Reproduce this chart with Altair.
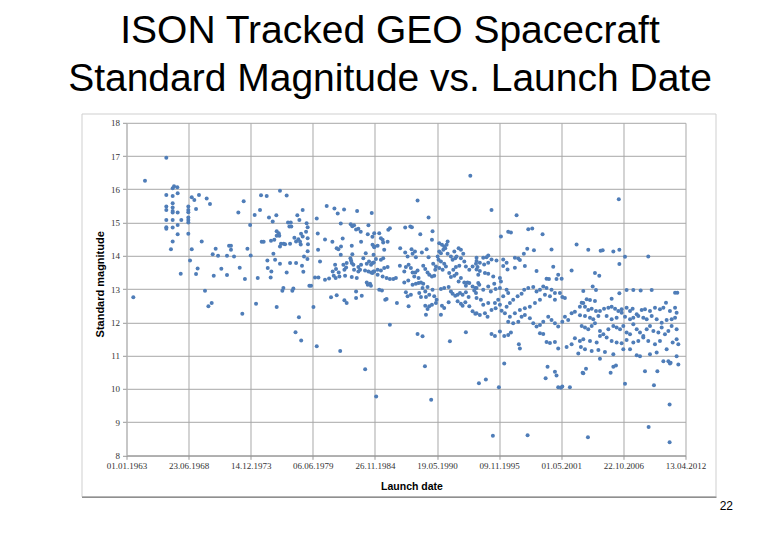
import altair as alt
import pandas as pd

title_lines = ["ISON Tracked GEO Spacecraft", "Standard Magnitude vs. Launch Date"]
x_title = "Launch date"
y_title = "Standard magnitude"
page_number = "22"

# Excel-style date axis: ticks every 2000 days from 01.01.1963
x_tick_days = [0, 2000, 4000, 6000, 8000, 10000, 12000, 14000, 16000, 18000]
x_tick_labels = ["01.01.1963", "23.06.1968", "14.12.1973", "06.06.1979", "26.11.1984",
                 "19.05.1990", "09.11.1995", "01.05.2001", "22.10.2006", "13.04.2012"]
y_ticks = [8, 9, 10, 11, 12, 13, 14, 15, 16, 17, 18]

# (launch date as decimal year, standard magnitude)
seg_1963_1973 = [
    (1963.60, 12.75), (1964.63, 16.26), (1966.51, 16.95), (1966.51, 15.83), (1966.51, 15.48),
    (1966.51, 15.38), (1966.51, 15.08), (1966.51, 14.86), (1966.51, 14.81),
    (1967.07, 16.03), (1967.19, 16.09), (1967.48, 16.06), (1967.07, 15.80), (1967.07, 15.58),
    (1967.07, 15.45), (1967.07, 15.35), (1967.07, 15.30), (1967.07, 15.08), (1967.07, 14.85),
    (1967.07, 14.43), (1966.92, 14.20), (1967.51, 15.88), (1967.51, 15.30), (1967.51, 14.93),
    (1967.51, 14.65), (1967.83, 15.08), (1967.78, 13.46),
    (1968.45, 15.48), (1968.45, 15.38), (1968.45, 15.31), (1968.45, 15.15), (1968.45, 15.08),
    (1968.45, 15.00), (1968.45, 14.66), (1968.75, 15.76), (1968.98, 15.68), (1969.13, 15.41),
    (1969.39, 15.83), (1968.75, 14.20), (1968.60, 13.86), (1969.63, 14.43), (1969.27, 13.62),
    (1969.13, 13.45), (1969.92, 12.95), (1970.07, 15.72), (1970.36, 15.56), (1970.51, 12.58),
    (1970.22, 12.48), (1970.60, 14.05), (1970.86, 14.21), (1971.07, 14.00), (1970.69, 13.40),
    (1971.36, 13.61), (1971.86, 14.00), (1972.04, 14.30), (1972.21, 14.30), (1972.21, 14.18),
    (1972.48, 13.98), (1971.86, 13.42), (1972.98, 13.64), (1973.44, 13.30), (1972.86, 15.30),
    (1973.33, 15.64), (1973.21, 12.26), (1973.66, 14.21), (1973.90, 14.93),
]
seg_1974_1979 = [
    (1973.95, 14.01), (1974.30, 15.23), (1974.77, 15.38), (1974.86, 15.82), (1975.36, 15.80),
    (1976.53, 15.96), (1977.12, 15.81), (1974.92, 14.42), (1975.09, 14.42), (1975.56, 15.15),
    (1975.89, 15.03), (1975.74, 14.45), (1976.03, 14.48), (1976.21, 15.22), (1976.24, 14.74),
    (1976.42, 14.68), (1976.47, 14.60), (1976.53, 14.28), (1976.62, 14.36), (1976.86, 14.36),
    (1975.95, 14.06), (1975.42, 13.86), (1975.45, 13.63), (1975.77, 13.53), (1975.71, 13.35),
    (1976.53, 13.76), (1977.12, 13.50), (1976.74, 12.95), (1976.83, 13.03), (1977.62, 12.95),
    (1977.71, 13.02), (1977.42, 13.78), (1977.24, 15.00), (1977.48, 15.00), (1977.36, 14.88),
    (1977.53, 14.88), (1977.42, 14.36), (1977.80, 14.54), (1977.95, 14.43), (1978.15, 14.50),
    (1978.36, 14.34), (1978.06, 15.22), (1978.24, 15.08), (1978.53, 15.38), (1978.39, 14.66),
    (1978.53, 14.58), (1978.65, 13.98), (1978.47, 13.70), (1978.59, 13.52), (1977.95, 13.78),
    (1978.88, 14.98), (1978.97, 14.86), (1978.97, 14.53), (1978.97, 14.14), (1979.12, 13.10),
    (1974.42, 12.56), (1976.24, 12.46), (1978.20, 12.15), (1977.90, 11.70), (1978.40, 11.45),
    (1976.10, 13.88), (1978.95, 13.90), (1974.57, 13.33), (1978.83, 14.72), (1978.30, 14.42),
    (1979.00, 14.35), (1976.98, 14.35), (1976.24, 14.60),
]
seg_1979_1984 = [
    (1979.77, 15.12), (1979.48, 12.46), (1979.77, 11.28), (1979.86, 14.67), (1979.89, 14.18),
    (1980.06, 13.83), (1979.62, 13.35), (1979.92, 13.35), (1979.27, 13.10), (1980.50, 14.49),
    (1980.65, 15.50), (1980.50, 13.28), (1980.86, 13.32), (1981.15, 14.42), (1981.33, 15.42),
    (1981.62, 15.27), (1981.89, 14.97), (1981.39, 13.73), (1981.53, 14.23), (1981.68, 14.20),
    (1981.91, 14.28), (1982.06, 14.52), (1981.03, 12.75), (1981.53, 12.81), (1981.18, 13.53),
    (1981.47, 13.60), (1981.71, 13.50), (1981.27, 13.40), (1981.44, 13.33), (1981.77, 13.38),
    (1982.18, 15.39), (1982.21, 12.66), (1982.41, 12.58), (1982.12, 13.73), (1982.36, 13.65),
    (1982.41, 13.78), (1982.21, 13.58), (1982.27, 13.40), (1981.89, 14.03), (1982.77, 14.95),
    (1982.91, 14.89), (1983.06, 14.92), (1983.24, 14.79), (1983.44, 14.81), (1983.65, 14.72),
    (1982.86, 14.30), (1982.91, 14.05), (1982.74, 13.93), (1982.80, 13.86), (1982.86, 13.78),
    (1983.00, 13.73), (1983.06, 13.58), (1983.44, 13.66), (1983.68, 13.73), (1983.59, 13.58),
    (1983.44, 13.53), (1982.86, 13.36), (1983.30, 13.33), (1983.24, 12.93), (1983.24, 12.73),
    (1983.74, 12.80), (1983.68, 14.42), (1983.88, 13.93), (1984.09, 14.08), (1983.33, 15.35),
    (1984.33, 14.92), (1984.62, 15.29), (1984.27, 14.65), (1984.68, 14.57), (1984.85, 14.28),
    (1984.18, 13.76), (1984.38, 13.83), (1984.56, 13.73), (1984.80, 13.80), (1984.03, 13.56),
    (1984.33, 13.53), (1984.56, 13.50), (1984.77, 13.53), (1984.18, 13.20), (1984.27, 13.13),
    (1984.47, 13.16), (1981.84, 11.14), (1984.04, 10.59), (1985.01, 9.77),
]
seg_1985_1993 = [
    (1993.31, 16.41), (1988.66, 15.66), (1989.63, 15.15), (1984.84, 14.68), (1985.28, 14.68),
    (1985.43, 14.53), (1985.58, 14.48), (1986.08, 14.78), (1986.22, 14.83), (1987.57, 14.85),
    (1988.02, 14.88), (1988.16, 14.86), (1988.90, 14.65), (1989.98, 14.74), (1989.93, 14.48),
    (1984.69, 14.33), (1984.84, 14.26), (1985.14, 14.30), (1985.63, 14.40), (1986.02, 14.42),
    (1985.72, 14.18), (1984.78, 14.03), (1984.99, 13.90), (1985.43, 13.88), (1985.63, 13.93),
    (1984.69, 13.78), (1984.84, 13.53), (1985.14, 13.58), (1985.43, 13.56), (1985.72, 13.63),
    (1986.02, 13.66), (1984.69, 13.48), (1985.14, 13.43), (1985.58, 13.38), (1985.93, 13.33),
    (1986.22, 13.30), (1986.52, 13.30), (1986.75, 13.33), (1985.28, 12.98), (1985.52, 12.96),
    (1984.55, 13.10), (1985.81, 12.68), (1985.93, 12.70), (1986.84, 12.58), (1987.87, 12.48),
    (1986.22, 11.93), (1987.13, 14.23), (1987.57, 14.10), (1987.78, 13.98), (1988.13, 14.20),
    (1988.22, 14.06), (1988.43, 14.13), (1988.51, 13.96), (1987.10, 13.70), (1987.63, 13.66),
    (1987.87, 13.73), (1988.07, 13.63), (1987.49, 13.53), (1988.22, 13.50), (1988.46, 13.50),
    (1988.66, 13.56), (1988.37, 13.38), (1988.75, 13.33), (1987.84, 13.26), (1987.49, 13.20),
    (1988.22, 13.13), (1988.51, 13.16), (1988.75, 13.18), (1988.96, 13.20), (1989.16, 13.16),
    (1989.10, 13.03), (1989.54, 13.06), (1989.34, 12.93), (1989.69, 12.83), (1989.98, 12.98),
    (1987.63, 12.90), (1987.78, 12.78), (1988.07, 12.83), (1988.81, 12.88), (1988.96, 12.76),
    (1989.40, 12.76), (1989.34, 12.50), (1989.54, 12.40), (1989.40, 12.23), (1989.69, 12.48),
    (1989.93, 12.53), (1990.28, 12.58), (1990.72, 12.23), (1988.66, 11.65), (1989.10, 11.58),
    (1991.51, 11.43), (1992.92, 11.70), (1989.31, 10.68), (1989.04, 14.10), (1989.46, 14.20),
    (1989.63, 13.96), (1989.16, 13.70), (1989.34, 13.60), (1989.54, 13.50), (1989.69, 13.43),
    (1989.93, 13.38), (1990.13, 13.40), (1990.04, 13.76), (1990.22, 13.58),
    (1990.57, 14.38), (1990.81, 14.33), (1991.01, 14.28), (1991.22, 14.33), (1991.31, 14.43),
    (1991.10, 14.23), (1990.93, 14.18), (1990.72, 14.08), (1990.57, 14.13), (1990.43, 13.98),
    (1990.51, 13.88), (1990.72, 13.83), (1991.01, 13.76), (1991.16, 13.68), (1990.87, 13.58),
    (1990.57, 13.63), (1990.28, 13.68), (1991.31, 14.06), (1991.60, 13.98), (1991.75, 13.88),
    (1991.98, 13.93), (1992.10, 13.98), (1991.90, 14.13), (1992.28, 14.23), (1992.48, 14.18),
    (1992.69, 14.06), (1992.48, 13.93), (1992.78, 13.83), (1992.92, 13.68), (1992.34, 13.70),
    (1992.04, 13.66), (1991.81, 13.58), (1991.45, 13.48), (1991.60, 13.36), (1991.90, 13.40),
    (1992.10, 13.46), (1992.48, 13.33), (1992.28, 13.23), (1992.78, 13.20), (1993.07, 13.20),
    (1992.92, 13.10), (1993.22, 13.18), (1993.51, 13.08), (1993.66, 12.96), (1993.81, 12.88),
    (1993.75, 13.03), (1994.10, 13.13), (1993.95, 13.66), (1993.81, 13.76), (1993.51, 13.68),
    (1993.22, 13.58), (1990.72, 13.00), (1991.01, 13.03), (1991.40, 13.06), (1991.60, 12.93),
    (1991.75, 12.86), (1991.98, 12.80), (1992.19, 12.83), (1992.40, 12.88), (1992.63, 12.83),
    (1992.92, 12.90), (1993.16, 12.76), (1992.19, 12.63), (1992.48, 12.56), (1992.63, 12.50),
    (1992.87, 12.60), (1993.22, 12.48), (1993.51, 12.33), (1993.75, 12.26), (1990.34, 12.68),
    (1990.13, 12.78), (1990.81, 12.50), (1991.01, 12.43), (1991.40, 12.60),
    (1989.86, 9.67), (1995.30, 8.59),
]
seg_1994_2003 = [
    (1995.18, 15.38), (1997.39, 15.22), (1996.65, 14.72), (1996.89, 14.70), (1996.01, 14.58),
    (1998.42, 14.80), (1998.77, 14.82), (1999.68, 14.65), (2002.68, 14.34), (1998.33, 14.21),
    (1998.92, 14.17), (2000.47, 14.19), (1998.03, 14.06), (1994.89, 14.01), (1994.74, 13.96),
    (1994.45, 13.94), (1993.86, 13.94), (1993.86, 13.84), (1994.15, 13.79), (1994.53, 13.74),
    (1994.89, 13.79), (1995.18, 13.89), (1995.62, 13.86), (1996.21, 13.89), (1996.51, 13.79),
    (1996.21, 13.69), (1996.59, 13.59), (1997.24, 13.94), (1997.54, 13.92), (1997.68, 13.87),
    (1998.12, 13.69), (1997.24, 13.64), (1999.15, 13.54), (2000.62, 13.67), (2002.24, 13.56),
    (2000.03, 13.31), (2000.24, 13.30), (2000.91, 13.30), (2001.36, 13.31), (2001.06, 13.43),
    (1993.86, 13.59), (1994.15, 13.54), (1994.01, 13.43), (1994.60, 13.48), (1994.89, 13.46),
    (1995.33, 13.38), (1995.92, 13.33), (1996.01, 13.23), (1995.42, 13.16), (1994.89, 13.08),
    (1994.01, 13.18), (1993.86, 13.03), (1994.45, 12.98), (1995.12, 12.93), (1995.54, 13.00),
    (1995.92, 13.03), (1996.51, 12.98), (1996.65, 12.88), (1996.21, 12.78), (1995.77, 12.68),
    (1995.48, 12.58), (1994.89, 12.58), (1994.24, 12.68), (1993.86, 12.73), (1994.45, 12.53),
    (1994.60, 12.27), (1994.83, 12.17), (1994.15, 12.22), (1993.86, 12.27), (1995.18, 12.37),
    (1995.54, 12.42), (1995.92, 12.53), (1996.51, 12.47), (1996.80, 12.58), (1997.09, 12.68),
    (1997.48, 12.78), (1997.83, 12.86), (1998.06, 12.98), (1998.42, 13.03), (1998.86, 13.06),
    (1999.15, 12.93), (1999.45, 12.98), (1999.74, 13.08), (2000.03, 13.03), (2000.47, 12.98),
    (2000.77, 12.88), (2001.21, 12.88), (2001.42, 12.76), (2001.65, 12.73), (2000.77, 12.68),
    (2000.33, 12.78), (1999.89, 12.83), (1999.45, 12.68), (1999.01, 12.58), (1998.56, 12.47),
    (1998.12, 12.42), (1997.68, 12.37), (1997.24, 12.27), (1996.80, 12.17), (1996.36, 12.27),
    (1996.07, 12.35), (1996.65, 12.02), (1997.09, 11.97), (1997.54, 12.02), (1997.83, 12.17),
    (1998.12, 12.22), (1998.56, 12.12), (1998.86, 11.97), (1999.15, 11.87), (1999.45, 11.92),
    (1999.74, 12.02), (2000.18, 12.17), (2000.47, 12.07), (2000.77, 11.97), (2001.06, 11.87),
    (2001.42, 12.02), (2001.65, 12.17), (2001.94, 12.07), (2002.24, 12.27), (2002.53, 12.32),
    (2002.97, 12.47), (2003.27, 12.58), (1995.18, 11.65), (1995.48, 11.59), (1995.92, 11.72),
    (1996.30, 11.59), (1996.65, 11.62), (1996.89, 11.69), (1997.59, 11.34), (1997.68, 11.21),
    (1999.45, 11.67), (1999.74, 11.65), (2000.03, 11.41), (2000.33, 11.38), (2000.77, 11.41),
    (2001.06, 11.21), (2001.80, 11.26), (2002.24, 11.34), (2002.53, 11.52), (2002.97, 11.44),
    (2003.06, 11.26), (2002.83, 11.06), (1996.30, 10.76), (1994.07, 10.17), (1994.68, 10.28),
    (1995.83, 10.05), (2000.12, 10.66), (2000.77, 10.51), (2000.91, 10.40), (1999.95, 10.32),
    (2001.06, 10.05), (2001.30, 10.03), (2001.42, 10.07), (2002.09, 10.05), (2003.27, 10.47),
    (1998.36, 8.60), (2003.68, 8.54),
]
seg_2003_2012 = [
    (2003.71, 14.18), (2004.80, 14.15), (2004.98, 14.17), (2005.92, 14.13), (2006.45, 14.18),
    (2006.95, 13.97), (2009.00, 13.98), (2006.45, 13.75), (2004.30, 13.48), (2004.68, 13.40),
    (2004.10, 13.08), (2004.39, 12.97), (2007.09, 12.97), (2007.68, 12.97), (2008.33, 12.96),
    (2009.30, 12.97), (2011.36, 12.89), (2011.56, 12.89), (2003.27, 12.94), (2003.57, 12.69),
    (2003.86, 12.67), (2004.30, 12.64), (2005.77, 12.71), (2006.45, 12.87),
    (2003.13, 12.59), (2003.42, 12.47), (2003.71, 12.37), (2004.01, 12.41), (2004.39, 12.34),
    (2004.74, 12.34), (2005.10, 12.41), (2005.48, 12.44), (2005.77, 12.47), (2006.07, 12.41),
    (2006.36, 12.34), (2006.65, 12.39), (2007.09, 12.44), (2007.39, 12.34), (2007.62, 12.41),
    (2007.98, 12.24), (2008.42, 12.37), (2008.71, 12.39), (2009.15, 12.34), (2009.59, 12.44),
    (2010.03, 12.39), (2010.33, 12.44), (2010.56, 12.59), (2010.91, 12.34), (2011.36, 12.44),
    (2011.50, 12.29), (2002.98, 12.21), (2003.42, 12.19), (2003.86, 12.14), (2004.15, 12.09),
    (2004.60, 12.19), (2005.33, 12.19), (2005.77, 12.09), (2006.21, 12.14), (2006.65, 12.29),
    (2006.95, 12.17), (2007.39, 12.09), (2007.68, 12.14), (2008.12, 12.19), (2008.56, 12.14),
    (2008.86, 12.09), (2009.30, 12.19), (2009.74, 12.09), (2010.18, 11.99), (2010.62, 12.07),
    (2011.06, 12.09), (2011.36, 12.14), (2003.13, 11.89), (2003.42, 11.84), (2003.71, 11.79),
    (2004.01, 11.89), (2004.30, 11.97), (2004.74, 11.74), (2005.04, 11.64), (2005.48, 11.79),
    (2005.92, 11.89), (2006.21, 11.84), (2006.51, 11.79), (2006.80, 11.89), (2007.09, 11.69),
    (2007.39, 11.64), (2007.68, 11.94), (2007.98, 11.79), (2008.27, 11.69), (2008.56, 11.59),
    (2008.86, 11.79), (2009.15, 11.89), (2009.45, 11.74), (2009.89, 11.69), (2010.18, 11.84),
    (2010.47, 11.64), (2010.77, 11.74), (2011.06, 11.89), (2011.50, 11.79), (2003.27, 11.49),
    (2003.86, 11.44), (2004.45, 11.39), (2004.74, 11.59), (2005.33, 11.54), (2005.77, 11.44),
    (2006.21, 11.39), (2006.65, 11.37), (2007.09, 11.47), (2007.68, 11.39), (2008.12, 11.44),
    (2008.56, 11.54), (2009.00, 11.44), (2009.59, 11.34), (2010.03, 11.44), (2010.62, 11.19),
    (2011.15, 11.39), (2011.50, 11.49), (2011.65, 11.34), (2003.42, 11.19), (2004.01, 11.14),
    (2004.60, 11.17), (2005.18, 11.11), (2005.92, 11.04), (2006.80, 11.19), (2007.39, 11.19),
    (2007.98, 11.01), (2008.27, 10.98), (2009.15, 11.04), (2009.74, 11.09), (2010.33, 10.83),
    (2010.77, 10.83), (2010.97, 10.78), (2011.50, 10.98), (2011.65, 10.73), (2003.21, 10.48),
    (2003.51, 10.60), (2004.74, 10.90), (2005.68, 10.48), (2005.92, 10.66), (2006.15, 10.70),
    (2008.71, 10.53), (2009.80, 10.53), (2010.91, 10.76), (2006.95, 10.15), (2009.50, 10.11),
    (2006.40, 15.70), (2009.03, 8.85), (2010.88, 9.53), (2010.88, 8.39),
]

all_points = seg_1963_1973 + seg_1974_1979 + seg_1979_1984 + seg_1985_1993 + seg_1994_2003 + seg_2003_2012
df = pd.DataFrame(all_points, columns=["year", "mag"])
df["days"] = (df["year"] - 1963.0) * 365.25

W, H = 559, 332.5

days_js = "[" + ",".join(str(d) for d in x_tick_days) + "]"
labels_js = "[" + ",".join("'" + s + "'" for s in x_tick_labels) + "]"
label_expr = f"{labels_js}[indexof({days_js}, datum.value)]"

points = alt.Chart(df).mark_circle(size=16, color="#4F7DB8", opacity=1).encode(
    x=alt.X("days:Q",
            scale=alt.Scale(domain=[0, 18000], nice=False, zero=False),
            axis=alt.Axis(values=x_tick_days, labelExpr=label_expr, title=x_title,
                          titleX=285, titleY=31, titleBaseline="middle", titleAlign="center",
                          tickSize=4, labelPadding=2, domainColor="#999999",
                          labelFlush=False)),
    y=alt.Y("mag:Q",
            scale=alt.Scale(domain=[8, 18], nice=False, zero=False),
            axis=alt.Axis(values=y_ticks, title=y_title, titleAngle=270,
                          titleX=-26, titleY=161, titleBaseline="middle", titleAlign="center",
                          tickSize=4, labelPadding=3, domainColor="#bbbbbb")),
)

frame = alt.Chart(pd.DataFrame({"k": [0]})).mark_rect(
    fillOpacity=0, stroke="#cfcfcf", strokeWidth=1
).encode(
    x=alt.value(-44.5), x2=alt.value(W + 30.5), y=alt.value(-8.8), y2=alt.value(H + 41.5)
)
shadow = alt.Chart(pd.DataFrame({"k": [0]})).mark_rule(color="#8f8f8f", strokeWidth=1.5).encode(
    x=alt.value(-44.5), x2=alt.value(W + 31), y=alt.value(H + 42)
)
page = alt.Chart(pd.DataFrame({"t": [page_number]})).mark_text(
    font="Liberation Sans", fontSize=12, align="right", baseline="alphabetic", color="#000000"
).encode(text="t:N", x=alt.value(606.5), y=alt.value(387))

chart = alt.layer(frame, shadow, points, page).properties(
    width=W, height=H,
    title=alt.Title(text=title_lines, fontSize=39, font="Liberation Sans", fontWeight="normal",
                    color="#000000", lineHeight=48, anchor="middle", offset=14.5, dx=-16),
    padding={"left": 118.5, "top": 114.8, "right": 80, "bottom": 70},
    autosize=alt.AutoSizeParams(type="none"),
).configure_view(stroke=None).configure_axis(
    gridColor="#a8a8a8", gridWidth=1, tickColor="#999999",
    labelFont="Liberation Serif", labelFontSize=9, labelColor="#333333",
    titleFont="Liberation Sans", titleFontSize=10.5, titleFontWeight="bold", titleColor="#000000",
).configure_axisY(titleFontSize=11)

chart.save("out.html", embed_options={"renderer": "svg", "actions": False})
